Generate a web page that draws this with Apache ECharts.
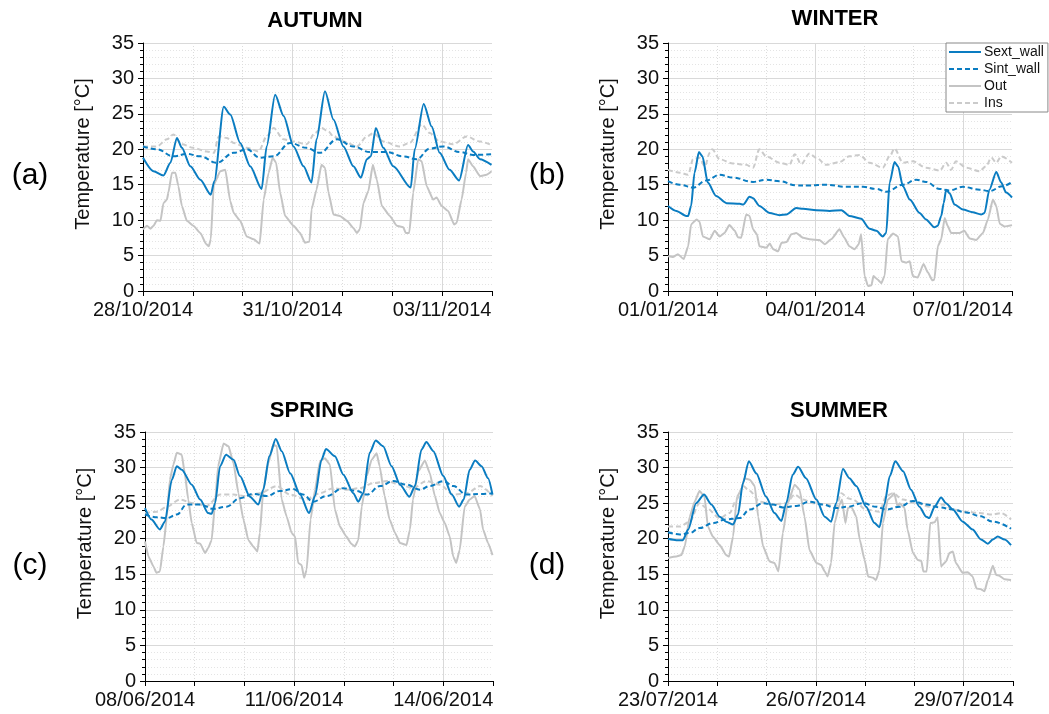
<!DOCTYPE html>
<html>
<head>
<meta charset="utf-8">
<script src="https://cdn.jsdelivr.net/npm/echarts@6/dist/echarts.min.js"></script>
<style>
html,body{margin:0;padding:0;background:#fff;}
#chart{width:1049px;height:714px;}
</style>
</head>
<body>
<div id="chart"></div>
<script>
// ---------- DATA (x = days from panel start, y = °C) ----------
const panelTitles = ['AUTUMN', 'WINTER', 'SPRING', 'SUMMER'];
const panelLetters = ['(a)', '(b)', '(c)', '(d)'];
const startDates = ['2014-10-28', '2014-01-01', '2014-06-08', '2014-07-23'];
const seriesNames = ['Sext_wall', 'Sint_wall', 'Out', 'Ins'];
const yTicks = [0, 5, 10, 15, 20, 25, 30, 35];

// AUTUMN
const aSext = [[0,18.8],[0.21,16.9],[0.41,16.3],[0.55,18.1],[0.68,21.6],[0.78,20.2],[0.95,17.6],[1.15,15.7],[1.36,13.6],[1.43,15.5],[1.62,26.0],[1.75,24.9],[1.95,20.9],[2.15,17.6],[2.38,14.4],[2.48,20.4],[2.65,27.7],[2.82,24.7],[3.02,20.4],[3.22,17.6],[3.38,15.3],[3.48,21.4],[3.65,28.2],[3.82,24.2],[4.02,20.4],[4.22,17.6],[4.37,16.0],[4.49,18.6],[4.57,19.0],[4.67,23.0],[4.82,20.2],[5.02,17.6],[5.37,14.6],[5.45,20.0],[5.63,26.4],[5.79,23.2],[5.95,19.5],[6.15,17.1],[6.34,15.6],[6.52,20.6],[6.62,19.7],[6.76,18.6],[6.99,17.8]];
const aSint = [[0,20.4],[0.28,20.0],[0.61,19.0],[0.88,19.35],[1.15,19.0],[1.48,18.1],[1.82,19.5],[2.08,20.0],[2.35,18.8],[2.62,19.0],[2.95,20.9],[3.28,20.2],[3.55,19.5],[3.89,21.4],[4.22,20.4],[4.55,19.6],[4.89,19.6],[5.22,19.0],[5.49,18.6],[5.75,20.1],[6.02,20.4],[6.36,19.6],[6.62,19.2],[6.99,19.3]];
const aOut = [[0,8.7],[0.08,9.2],[0.15,8.8],[0.21,9.2],[0.28,10.0],[0.35,9.9],[0.41,12.4],[0.48,12.9],[0.51,13.9],[0.58,16.7],[0.65,16.7],[0.71,14.8],[0.78,12.0],[0.88,9.9],[1.01,9.2],[1.15,8.2],[1.27,6.6],[1.32,6.3],[1.36,7.3],[1.42,15.0],[1.55,16.9],[1.65,17.1],[1.75,12.7],[1.82,11.0],[1.95,9.9],[2.08,7.7],[2.22,7.3],[2.34,6.7],[2.42,12.9],[2.52,16.7],[2.60,18.8],[2.67,18.1],[2.75,13.9],[2.85,10.6],[3.02,9.2],[3.15,8.2],[3.25,6.8],[3.34,7.0],[3.38,11.5],[3.48,14.3],[3.58,17.8],[3.65,17.4],[3.72,13.9],[3.82,10.8],[3.95,10.6],[4.09,9.9],[4.22,8.9],[4.29,8.2],[4.35,8.7],[4.42,12.4],[4.52,14.1],[4.61,17.8],[4.69,15.7],[4.79,12.0],[4.95,10.6],[5.09,9.2],[5.22,9.0],[5.27,8.2],[5.34,8.2],[5.42,13.9],[5.52,18.6],[5.59,18.3],[5.69,14.8],[5.82,12.9],[5.89,13.2],[5.99,12.0],[6.12,11.3],[6.24,9.4],[6.29,9.6],[6.39,12.9],[6.48,16.7],[6.52,18.6],[6.62,17.6],[6.76,16.2],[6.89,16.4],[6.99,16.9]];
const aIns = [[0,20.4],[0.28,20.4],[0.48,21.4],[0.61,22.1],[0.78,20.7],[1.01,20.2],[1.28,19.7],[1.42,19.5],[1.52,21.8],[1.68,21.6],[1.82,20.9],[2.08,20.2],[2.32,19.7],[2.48,21.8],[2.62,23.0],[2.82,21.4],[3.02,21.1],[3.28,20.7],[3.45,22.3],[3.58,23.0],[3.72,22.5],[3.82,21.8],[4.02,21.1],[4.29,20.4],[4.49,21.8],[4.62,22.3],[4.82,21.1],[5.15,20.4],[5.35,20.9],[5.59,23.5],[5.75,22.3],[5.95,21.1],[6.22,20.7],[6.49,21.8],[6.76,21.1],[6.99,20.6]];

// WINTER
const bSext = [[0,12.0],[0.17,11.3],[0.37,10.6],[0.41,10.6],[0.47,12.0],[0.54,16.7],[0.63,19.6],[0.70,19.0],[0.81,15.3],[0.98,13.4],[1.19,12.4],[1.46,12.3],[1.53,12.2],[1.66,13.3],[1.73,13.1],[1.86,12.0],[2.07,11.0],[2.27,10.7],[2.41,10.8],[2.61,11.7],[2.75,11.6],[3.02,11.4],[3.29,11.3],[3.53,11.4],[3.69,10.6],[3.93,10.2],[4.10,8.8],[4.24,8.5],[4.37,7.7],[4.44,8.2],[4.51,15.3],[4.61,18.2],[4.68,17.6],[4.78,14.8],[4.92,12.9],[5.12,11.0],[5.25,10.1],[5.42,9.0],[5.49,9.2],[5.56,10.6],[5.61,12.4],[5.66,14.3],[5.73,13.8],[5.83,12.2],[6.00,11.5],[6.20,11.1],[6.37,10.8],[6.44,11.0],[6.54,14.3],[6.68,16.8],[6.78,15.3],[6.88,13.9],[7.0,13.2]];
const bSint = [[0,15.5],[0.24,15.0],[0.51,14.6],[0.78,15.6],[1.05,16.4],[1.32,16.0],[1.73,15.4],[2.0,15.7],[2.27,15.5],[2.61,14.9],[2.88,14.9],[3.22,15.0],[3.63,14.7],[3.97,14.7],[4.24,14.4],[4.44,14.0],[4.78,15.0],[5.05,15.7],[5.25,15.4],[5.53,14.4],[5.73,14.2],[6.0,14.7],[6.34,14.3],[6.54,14.1],[6.81,14.8],[7.0,15.4]];
const bOut = [[0,4.9],[0.10,4.8],[0.20,5.2],[0.32,4.5],[0.41,6.3],[0.47,9.4],[0.58,10.1],[0.64,9.8],[0.71,7.7],[0.85,7.3],[0.95,8.5],[1.05,7.7],[1.15,8.2],[1.25,9.3],[1.36,8.5],[1.42,7.6],[1.49,7.5],[1.59,10.8],[1.66,10.6],[1.73,8.7],[1.81,8.0],[1.86,6.3],[2.0,6.1],[2.07,6.7],[2.14,5.9],[2.24,5.6],[2.31,6.8],[2.41,6.9],[2.51,8.0],[2.61,8.2],[2.75,7.5],[2.88,7.3],[3.08,7.2],[3.19,6.6],[3.32,7.3],[3.49,8.7],[3.59,7.5],[3.69,6.3],[3.80,5.9],[3.88,6.6],[3.93,8.0],[4.0,2.1],[4.07,0.7],[4.14,0.8],[4.18,2.1],[4.27,1.6],[4.34,1.1],[4.41,2.2],[4.47,7.3],[4.58,8.1],[4.68,7.7],[4.75,4.2],[4.85,4.0],[4.92,4.2],[4.98,2.1],[5.08,1.9],[5.20,3.8],[5.29,2.6],[5.38,1.5],[5.42,1.6],[5.49,6.3],[5.56,7.3],[5.63,10.3],[5.69,9.2],[5.76,8.2],[5.93,8.2],[6.03,8.5],[6.14,7.4],[6.27,7.2],[6.41,8.2],[6.51,10.1],[6.61,12.9],[6.68,12.0],[6.75,9.5],[6.85,9.1],[7.0,9.3]];
const bIns = [[0,17.1],[0.24,16.7],[0.41,16.4],[0.51,18.6],[0.64,18.8],[0.75,17.6],[0.85,19.5],[0.90,20.0],[1.05,18.6],[1.32,18.0],[1.59,17.8],[1.73,17.4],[1.86,20.0],[2.0,19.0],[2.27,18.1],[2.47,17.8],[2.58,19.3],[2.71,17.9],[2.88,19.4],[3.02,18.8],[3.22,17.8],[3.49,18.2],[3.69,19.0],[3.90,19.2],[4.10,18.1],[4.37,17.4],[4.51,19.0],[4.61,20.1],[4.78,18.1],[4.98,18.3],[5.25,17.4],[5.53,17.0],[5.66,18.1],[5.76,17.1],[5.86,18.3],[6.07,17.4],[6.34,16.9],[6.47,17.6],[6.58,18.8],[6.68,18.1],[6.78,19.0],[7.0,18.1]];

// SPRING
const cSext = [[0,24.3],[0.13,22.7],[0.30,21.3],[0.40,22.4],[0.54,28.3],[0.64,30.2],[0.74,29.7],[0.94,27.6],[1.11,25.5],[1.27,23.6],[1.34,23.5],[1.41,25.0],[1.51,30.2],[1.63,31.8],[1.78,31.1],[1.91,28.8],[2.11,25.9],[2.28,24.8],[2.38,26.9],[2.50,31.6],[2.63,34.0],[2.75,32.3],[2.92,29.2],[3.12,26.2],[3.30,23.6],[3.42,26.0],[3.55,31.1],[3.64,32.6],[3.82,31.6],[3.99,29.0],[4.19,26.4],[4.29,25.2],[4.39,26.4],[4.52,32.1],[4.64,33.8],[4.79,33.0],[4.96,30.2],[5.13,27.6],[5.32,25.9],[5.43,27.4],[5.56,32.5],[5.66,33.6],[5.80,32.3],[6.0,28.8],[6.17,26.2],[6.32,24.5],[6.41,25.5],[6.53,29.7],[6.64,31.0],[6.77,30.2],[6.90,28.5],[6.99,26.2]];
const cSint = [[0,23.4],[0.24,23.0],[0.44,22.9],[0.64,23.4],[0.84,24.8],[1.11,24.8],[1.37,24.2],[1.64,24.5],[1.91,25.7],[2.18,26.3],[2.45,26.0],[2.71,26.7],[2.98,27.0],[3.18,26.2],[3.38,25.2],[3.65,26.0],[3.99,27.1],[4.26,26.7],[4.46,26.2],[4.73,27.4],[4.99,28.1],[5.26,27.6],[5.53,26.9],[5.73,27.4],[6.0,28.1],[6.20,27.4],[6.47,26.2],[6.74,26.3],[6.99,26.4]];
const cOut = [[0,19.6],[0.07,17.5],[0.17,16.1],[0.23,15.2],[0.30,15.4],[0.37,18.9],[0.44,23.1],[0.50,28.3],[0.57,30.4],[0.64,32.1],[0.74,31.8],[0.80,29.2],[0.87,25.5],[0.94,22.2],[1.04,19.4],[1.11,19.3],[1.21,18.0],[1.27,18.7],[1.34,19.8],[1.41,25.0],[1.47,30.2],[1.58,33.4],[1.68,33.0],[1.78,30.6],[1.88,26.4],[1.98,22.7],[2.08,19.8],[2.18,18.9],[2.26,18.2],[2.31,20.8],[2.38,26.9],[2.48,30.6],[2.58,33.2],[2.65,33.0],[2.75,25.5],[2.85,23.1],[2.95,20.8],[3.02,20.3],[3.08,16.6],[3.15,16.3],[3.20,14.5],[3.25,15.6],[3.33,22.7],[3.42,26.9],[3.52,30.9],[3.62,31.3],[3.72,30.4],[3.82,24.1],[3.92,21.7],[4.05,20.3],[4.15,19.3],[4.22,18.9],[4.29,19.8],[4.36,24.5],[4.46,28.8],[4.56,31.1],[4.66,32.0],[4.72,30.2],[4.82,26.0],[4.92,22.7],[5.03,20.8],[5.13,19.4],[5.26,19.1],[5.33,21.3],[5.39,25.5],[5.50,29.5],[5.63,31.0],[5.73,29.2],[5.83,26.0],[5.93,23.6],[6.03,22.2],[6.13,20.3],[6.20,17.5],[6.26,16.6],[6.33,18.4],[6.43,24.5],[6.53,25.5],[6.63,26.0],[6.74,24.1],[6.80,21.3],[6.90,19.4],[6.99,17.7]];
const cIns = [[0,23.6],[0.24,23.8],[0.44,24.5],[0.70,25.5],[0.97,25.0],[1.24,24.6],[1.51,26.2],[1.78,26.2],[2.04,26.0],[2.31,26.4],[2.65,27.4],[2.92,26.2],[3.25,25.5],[3.52,26.4],[3.79,27.1],[4.06,26.9],[4.32,27.1],[4.59,27.8],[4.86,28.1],[5.13,27.6],[5.39,27.1],[5.66,28.1],[5.93,27.6],[6.20,26.2],[6.47,26.4],[6.74,27.4],[6.99,26.0]];

// SUMMER
const dSext = [[0,20.0],[0.17,19.8],[0.30,19.8],[0.41,21.3],[0.57,25.0],[0.73,26.2],[0.88,24.8],[1.05,23.1],[1.18,22.4],[1.32,22.0],[1.42,23.4],[1.52,27.8],[1.64,30.9],[1.79,29.2],[1.99,25.9],[2.16,23.6],[2.30,22.5],[2.40,25.0],[2.53,29.0],[2.64,30.1],[2.80,28.5],[3.01,25.5],[3.18,23.1],[3.31,22.4],[3.41,25.0],[3.55,29.8],[3.68,28.5],[3.82,27.4],[4.02,24.5],[4.19,22.2],[4.29,21.6],[4.39,24.8],[4.50,28.8],[4.61,30.9],[4.77,29.5],[4.93,26.9],[5.10,24.5],[5.24,23.1],[5.30,22.9],[5.41,24.5],[5.54,25.8],[5.64,25.0],[5.78,24.1],[5.98,22.4],[6.18,21.3],[6.35,19.9],[6.49,19.3],[6.59,19.9],[6.69,20.3],[6.83,19.9],[6.96,19.1]];
const dSint = [[0,20.9],[0.24,20.6],[0.44,20.8],[0.64,21.5],[0.91,22.2],[1.18,22.7],[1.45,22.9],[1.66,24.1],[1.93,25.0],[2.13,24.8],[2.33,24.4],[2.60,24.6],[2.87,25.2],[3.14,24.8],[3.41,24.3],[3.65,24.5],[3.95,25.0],[4.22,24.5],[4.43,24.1],[4.70,24.5],[4.97,25.3],[5.24,24.8],[5.51,24.4],[5.78,24.1],[6.05,23.7],[6.32,23.2],[6.59,22.4],[6.96,21.4]];
const dOut = [[0,17.3],[0.17,17.5],[0.27,17.7],[0.34,18.9],[0.44,23.1],[0.54,25.2],[0.64,26.7],[0.74,25.9],[0.81,21.7],[0.91,20.3],[1.05,19.1],[1.18,17.7],[1.24,17.5],[1.32,20.3],[1.40,25.9],[1.49,26.9],[1.55,28.5],[1.66,28.3],[1.76,27.4],[1.83,23.1],[1.93,18.9],[2.06,16.8],[2.16,16.6],[2.24,15.4],[2.33,20.8],[2.43,25.0],[2.57,27.6],[2.67,26.9],[2.77,23.1],[2.87,18.4],[3.01,16.6],[3.11,16.3],[3.18,15.4],[3.24,14.7],[3.31,16.6],[3.38,22.2],[3.48,24.8],[3.53,25.5],[3.60,22.2],[3.65,24.3],[3.72,24.5],[3.82,23.1],[3.89,19.9],[3.99,17.0],[4.06,14.7],[4.16,14.5],[4.22,14.2],[4.29,15.6],[4.36,22.2],[4.46,25.5],[4.53,25.9],[4.59,26.4],[4.66,24.5],[4.70,25.0],[4.80,24.3],[4.86,21.3],[4.97,18.0],[5.07,17.0],[5.14,16.9],[5.18,15.4],[5.25,15.4],[5.32,22.2],[5.41,22.3],[5.47,23.0],[5.54,16.1],[5.64,16.8],[5.71,18.0],[5.78,18.2],[5.84,16.6],[5.98,15.2],[6.08,15.3],[6.18,14.7],[6.26,13.0],[6.35,12.9],[6.42,12.6],[6.49,14.2],[6.59,16.2],[6.66,14.9],[6.72,14.8],[6.83,14.3],[6.96,14.2]];
const dIns = [[0,21.7],[0.24,21.7],[0.44,22.4],[0.64,25.0],[0.78,24.3],[1.05,22.9],[1.25,23.6],[1.39,25.5],[1.52,27.4],[1.66,26.7],[1.86,25.2],[2.13,24.8],[2.40,25.0],[2.57,26.2],[2.74,25.5],[2.94,25.0],[3.21,24.8],[3.41,24.5],[3.52,26.4],[3.65,25.7],[3.75,25.5],[4.02,24.1],[4.29,23.8],[4.43,26.0],[4.56,26.4],[4.77,25.5],[5.04,25.0],[5.31,24.5],[5.58,24.8],[5.78,24.1],[6.05,23.8],[6.32,23.6],[6.59,23.4],[6.76,23.6],[6.96,22.7]];

const panelData = [
  [aSext, aSint, aOut, aIns],
  [bSext, bSint, bOut, bIns],
  [cSext, cSint, cOut, cIns],
  [dSext, dSint, dOut, dIns]
];

// ---------- STYLE / LAYOUT ----------
const FONT = 'Liberation Sans, Arial, sans-serif';
const BLUE = '#0a7cc1';
const GRAY = '#c4c4c4';
const LGRAY = '#cbcbcb';
const grids = [
  {left: 143, right: 557, top: 43, bottom: 423},
  {left: 668, right: 37, top: 43, bottom: 423},
  {left: 145, right: 556, top: 432, bottom: 33},
  {left: 668, right: 36, top: 432, bottom: 33}
];
const titlePos = [[315, 21], [835, 19], [312, 411], [839, 411]];
const letterPos = [[30, 176], [547, 176], [30, 566], [547, 566]];

function dateLabel(start, dayOffset) {
  const p = start.split('-').map(Number);
  const d = new Date(Date.UTC(p[0], p[1] - 1, p[2] + dayOffset));
  const dd = String(d.getUTCDate()).padStart(2, '0');
  const mm = String(d.getUTCMonth() + 1).padStart(2, '0');
  return dd + '/' + mm + '/' + d.getUTCFullYear();
}

const xAxes = [], yAxes = [], series = [], graphics = [];
for (let i = 0; i < 4; i++) {
  const start = startDates[i];
  // main axis: daily ticks, dotted day grid, labels every 3 days
  xAxes.push({
    type: 'value', gridIndex: i, min: 0, max: 7, interval: 1,
    axisLine: {show: true, onZero: false, lineStyle: {color: '#000', width: 1}},
    axisTick: {show: true, length: 5, lineStyle: {color: '#000'}},
    axisLabel: {
      color: '#111', fontFamily: FONT, fontSize: 20, margin: 9,
      formatter: v => (Math.round(v) % 3 === 0 && v < 7) ? dateLabel(start, Math.round(v)) : ''
    },
    splitLine: {show: true, showMaxLine: false, showMinLine: false,
      lineStyle: {color: '#dcdcdc', type: [1, 2], width: 1}}
  });
  // secondary axis: solid grid at labelled days
  xAxes.push({
    type: 'value', gridIndex: i, min: 0, max: 7, interval: 3,
    axisLine: {show: false}, axisTick: {show: false}, axisLabel: {show: false},
    splitLine: {show: true, showMaxLine: false, showMinLine: false,
      lineStyle: {color: '#d9d9d9', type: 'solid', width: 1}}
  });
  yAxes.push({
    type: 'value', gridIndex: i, min: yTicks[0], max: yTicks[yTicks.length - 1], interval: 5,
    name: 'Temperature [°C]', nameLocation: 'middle', nameGap: 50,
    nameTextStyle: {fontFamily: FONT, fontSize: 20, color: '#111', padding: [0, 0, 0, 26]},
    axisLine: {show: true, lineStyle: {color: '#000', width: 1}},
    axisTick: {show: true, length: 5, lineStyle: {color: '#000'}},
    minorTick: {show: true, splitNumber: 5, length: 3, lineStyle: {color: '#000'}},
    axisLabel: {color: '#111', fontFamily: FONT, fontSize: 20, margin: 9},
    splitLine: {show: true, showMinLine: false, lineStyle: {color: '#d9d9d9', width: 1}},
    minorSplitLine: {show: true, lineStyle: {color: '#e4e4e4', type: [1, 2], width: 1}}
  });
  const [sext, sint, out, ins] = panelData[i];
  const xi = i * 2;
  series.push(
    {name: 'Out', type: 'line', xAxisIndex: xi, yAxisIndex: i, data: out, symbol: 'none',
      smooth: 0.15, smoothMonotone: 'x', lineStyle: {color: GRAY, width: 2}, itemStyle: {color: GRAY}, z: 2},
    {name: 'Ins', type: 'line', xAxisIndex: xi, yAxisIndex: i, data: ins, symbol: 'none',
      smooth: 0.3, smoothMonotone: 'x', lineStyle: {color: LGRAY, width: 2, type: [5, 3]}, itemStyle: {color: LGRAY}, z: 3},
    {name: 'Sint_wall', type: 'line', xAxisIndex: xi, yAxisIndex: i, data: sint, symbol: 'none',
      smooth: 0.4, smoothMonotone: 'x', lineStyle: {color: BLUE, width: 2, type: [5, 3]}, itemStyle: {color: BLUE}, z: 4},
    {name: 'Sext_wall', type: 'line', xAxisIndex: xi, yAxisIndex: i, data: sext, symbol: 'none',
      smooth: 0.25, smoothMonotone: 'x', lineStyle: {color: BLUE, width: 2}, itemStyle: {color: BLUE}, z: 5}
  );
  graphics.push({
    type: 'text', x: titlePos[i][0], y: titlePos[i][1],
    style: {text: panelTitles[i], font: 'bold 22px ' + FONT, fill: '#000', textAlign: 'center', textVerticalAlign: 'middle'}
  });
  graphics.push({
    type: 'text', x: letterPos[i][0], y: letterPos[i][1],
    style: {text: panelLetters[i], font: '30px ' + FONT, fill: '#000', textAlign: 'center', textVerticalAlign: 'middle'}
  });
}

const chart = echarts.init(document.getElementById('chart'), null, {renderer: 'canvas'});
chart.setOption({
  animation: false,
  backgroundColor: '#fff',
  grid: grids,
  xAxis: xAxes,
  yAxis: yAxes,
  legend: {
    data: seriesNames,
    orient: 'vertical', left: 946, top: 43,
    itemWidth: 32, itemHeight: 14, itemGap: 3,
    padding: [2, 4, 2, 2],
    borderColor: '#888', borderWidth: 1, backgroundColor: '#fff',
    itemStyle: {opacity: 0},
    textStyle: {fontFamily: FONT, fontSize: 14, color: '#111', padding: [0, 0, 0, -2]},
    selectedMode: false
  },
  graphic: graphics,
  series: series
});
</script>
</body>
</html>
